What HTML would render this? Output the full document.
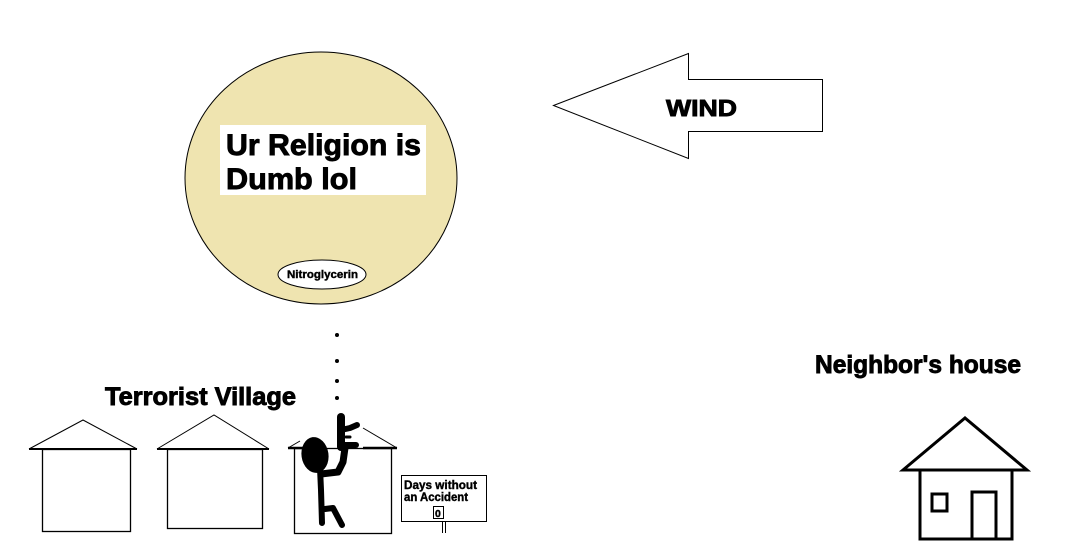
<!DOCTYPE html>
<html>
<head>
<meta charset="utf-8">
<style>
  html, body { margin: 0; padding: 0; background: #fff; }
  body { width: 1080px; height: 546px; overflow: hidden; }
  svg { display: block; }
  text { font-family: "Liberation Sans", Arial, sans-serif; font-weight: bold; fill: #000; }
  .heavy { stroke: #000; stroke-width: 0.9px; }
  .med { stroke: #000; stroke-width: 0.4px; }
</style>
</head>
<body>
<svg width="1080" height="546" viewBox="0 0 1080 546" xmlns="http://www.w3.org/2000/svg">
  <rect x="0" y="0" width="1080" height="546" fill="#fff"/>

  <!-- Balloon -->
  <ellipse cx="321" cy="178" rx="136" ry="126" fill="#efe4b0" stroke="#000" stroke-width="1"/>
  <rect x="220" y="125" width="206" height="70" fill="#fff"/>
  <text class="heavy" x="226" y="155" font-size="30" textLength="195" lengthAdjust="spacingAndGlyphs">Ur Religion is</text>
  <text class="heavy" x="226" y="189" font-size="30" textLength="131" lengthAdjust="spacingAndGlyphs">Dumb lol</text>
  <ellipse cx="322" cy="274.5" rx="44" ry="14.5" fill="#fff" stroke="#000" stroke-width="1"/>
  <text class="med" x="287" y="278" font-size="11" textLength="71" lengthAdjust="spacingAndGlyphs">Nitroglycerin</text>

  <!-- Wind arrow -->
  <polygon points="553.5,105.5 688.5,53.5 688.5,79.5 822.5,79.5 822.5,131.5 688.5,131.5 688.5,158.5" fill="#fff" stroke="#000" stroke-width="1"/>
  <text class="heavy" x="666" y="116" font-size="23" textLength="71" lengthAdjust="spacingAndGlyphs">WIND</text>

  <!-- Dotted string -->
  <circle cx="337" cy="335" r="2" fill="#000"/>
  <circle cx="337" cy="361" r="2" fill="#000"/>
  <circle cx="337" cy="381" r="2" fill="#000"/>
  <circle cx="337" cy="398" r="2" fill="#000"/>

  <!-- Terrorist Village label -->
  <text class="heavy" x="105" y="405" font-size="25" textLength="191" lengthAdjust="spacingAndGlyphs">Terrorist Village</text>

  <!-- House 1 -->
  <polyline points="29,449 83,420 137,449" fill="none" stroke="#000" stroke-width="1"/>
  <line x1="29" y1="449" x2="137" y2="449" stroke="#000" stroke-width="2"/>
  <rect x="42.5" y="449.5" width="88" height="82" fill="none" stroke="#000" stroke-width="1.3"/>

  <!-- House 2 -->
  <polyline points="157,449 214,415 269,449" fill="none" stroke="#000" stroke-width="1"/>
  <line x1="157" y1="449" x2="269" y2="449" stroke="#000" stroke-width="2"/>
  <rect x="167.5" y="449.5" width="95" height="79" fill="none" stroke="#000" stroke-width="1.3"/>

  <!-- House 3 (partially erased roof) -->
  <line x1="288" y1="448" x2="300" y2="441" stroke="#000" stroke-width="1"/>
  <line x1="363" y1="428" x2="397" y2="448" stroke="#000" stroke-width="1"/>
  <line x1="288" y1="448" x2="303" y2="448" stroke="#000" stroke-width="2.5"/>
  <line x1="363" y1="448" x2="397" y2="448" stroke="#000" stroke-width="2.5"/>
  <rect x="294.5" y="448.5" width="97" height="85" fill="none" stroke="#000" stroke-width="1.3"/>

  <!-- Stick figure -->
  <g stroke="#000" fill="none" stroke-linecap="round" stroke-linejoin="round">
    <ellipse cx="315" cy="455" rx="13.5" ry="18" fill="#000" stroke="none" transform="rotate(-8 315 455)"/>
    <polyline points="320,468 321,490 322,523" stroke-width="6"/>
    <polyline points="325,509 333,508 342,525" stroke-width="6"/>
    <polyline points="321,474 338,472 343,462 345,448" stroke-width="7"/>
    <line x1="341" y1="417" x2="341" y2="447" stroke-width="8"/>
    <polyline points="341,430 350,428 357,425" stroke-width="6"/>
    <line x1="341" y1="445" x2="356" y2="445" stroke-width="6"/>
    <line x1="346" y1="437" x2="350" y2="437" stroke-width="3"/>
  </g>

  <!-- Sign -->
  <rect x="401.5" y="475.5" width="85" height="46" fill="#fff" stroke="#000" stroke-width="1"/>
  <text class="med" x="404" y="489" font-size="11.5" textLength="73" lengthAdjust="spacingAndGlyphs">Days without</text>
  <text class="med" x="404" y="501" font-size="11.5" textLength="64" lengthAdjust="spacingAndGlyphs">an Accident</text>
  <rect x="433.5" y="506.5" width="10" height="12" fill="#fff" stroke="#000" stroke-width="1"/>
  <text class="med" x="435" y="517" font-size="10.5">0</text>
  <line x1="442.5" y1="522" x2="442.5" y2="533" stroke="#000" stroke-width="1"/>
  <line x1="445.5" y1="522" x2="445.5" y2="533" stroke="#000" stroke-width="1"/>

  <!-- Neighbor's house -->
  <text class="heavy" x="815" y="373" font-size="25" textLength="206" lengthAdjust="spacingAndGlyphs">Neighbor's house</text>
  <polygon points="903,470 965,418 1027,470" fill="none" stroke="#000" stroke-width="3" stroke-linejoin="miter"/>
  <rect x="920" y="470" width="92" height="69" fill="none" stroke="#000" stroke-width="3"/>
  <rect x="932" y="494" width="15" height="17" fill="none" stroke="#000" stroke-width="3"/>
  <rect x="972" y="492" width="24" height="47" fill="none" stroke="#000" stroke-width="3"/>
</svg>
</body>
</html>
